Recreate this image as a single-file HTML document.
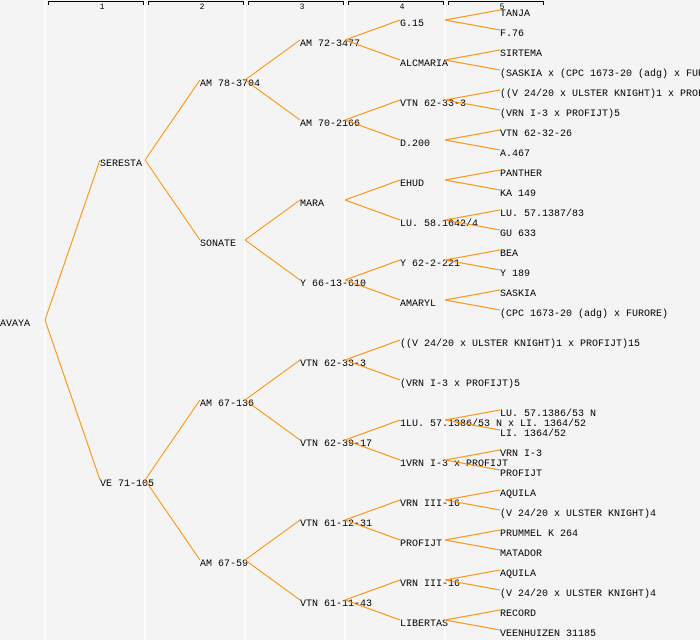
<!DOCTYPE html>
<html><head><style>
html,body{margin:0;padding:0;background:#f4f4f4;}
svg{display:block;}
text{font-family:"Liberation Mono",monospace;font-size:10px;fill:#000;}
.r{font-size:8px;}
</style></head><body>
<svg width="700" height="640" xmlns="http://www.w3.org/2000/svg">
<rect width="700" height="640" fill="#f4f4f4"/>
<g stroke="#ffffff" stroke-width="1.5">
<line x1="45" y1="0" x2="45" y2="640"/><line x1="145" y1="0" x2="145" y2="640"/><line x1="245" y1="0" x2="245" y2="640"/><line x1="345" y1="0" x2="345" y2="640"/><line x1="445" y1="0" x2="445" y2="640"/>
</g>
<g stroke="#000" stroke-width="1" fill="none">
<path d="M48.5 5V1.5H143.5V5"/><path d="M148.5 5V1.5H243.5V5"/><path d="M248.5 5V1.5H343.5V5"/><path d="M348.5 5V1.5H443.5V5"/><path d="M448.5 5V1.5H543.5V5"/>
</g>
<g class="r" text-anchor="middle">
<text class="r" x="102" y="9">1</text><text class="r" x="202" y="9">2</text><text class="r" x="302" y="9">3</text><text class="r" x="402" y="9">4</text><text class="r" x="502" y="9">5</text>
</g>
<g>
<text x="0" y="326">AVAYA</text>
<text x="100" y="166">SERESTA</text><text x="100" y="486">VE 71-105</text>
<text x="200" y="86">AM 78-3704</text><text x="200" y="246">SONATE</text><text x="200" y="406">AM 67-136</text><text x="200" y="566">AM 67-59</text>
<text x="300" y="46">AM 72-3477</text><text x="300" y="126">AM 70-2166</text><text x="300" y="206">MARA</text><text x="300" y="286">Y 66-13-610</text>
<text x="300" y="366">VTN 62-33-3</text><text x="300" y="446">VTN 62-39-17</text><text x="300" y="526">VTN 61-12-31</text><text x="300" y="606">VTN 61-11-43</text>
<text x="400" y="26">G.15</text><text x="400" y="66">ALCMARIA</text><text x="400" y="106">VTN 62-33-3</text><text x="400" y="146">D.200</text>
<text x="400" y="186">EHUD</text><text x="400" y="226">LU. 58.1642/4</text><text x="400" y="266">Y 62-2-221</text><text x="400" y="306">AMARYL</text>
<text x="400" y="346">((V 24/20 x ULSTER KNIGHT)1 x PROFIJT)15</text><text x="400" y="386">(VRN I-3 x PROFIJT)5</text>
<text x="400" y="426">1LU. 57.1386/53 N x LI. 1364/52</text><text x="400" y="466">1VRN I-3 x PROFIJT</text>
<text x="400" y="506">VRN III-16</text><text x="400" y="546">PROFIJT</text><text x="400" y="586">VRN III-16</text><text x="400" y="626">LIBERTAS</text>
<text x="500" y="16">TANJA</text><text x="500" y="36">F.76</text><text x="500" y="56">SIRTEMA</text><text x="500" y="76">(SASKIA x (CPC 1673-20 (adg) x FURORE))</text>
<text x="500" y="96">((V 24/20 x ULSTER KNIGHT)1 x PROFIJT)15</text><text x="500" y="116">(VRN I-3 x PROFIJT)5</text><text x="500" y="136">VTN 62-32-26</text><text x="500" y="156">A.467</text>
<text x="500" y="176">PANTHER</text><text x="500" y="196">KA 149</text><text x="500" y="216">LU. 57.1387/83</text><text x="500" y="236">GU 633</text>
<text x="500" y="256">BEA</text><text x="500" y="276">Y 189</text><text x="500" y="296">SASKIA</text><text x="500" y="316">(CPC 1673-20 (adg) x FURORE)</text>
<text x="500" y="416">LU. 57.1386/53 N</text><text x="500" y="436">LI. 1364/52</text><text x="500" y="456">VRN I-3</text><text x="500" y="476">PROFIJT</text>
<text x="500" y="496">AQUILA</text><text x="500" y="516">(V 24/20 x ULSTER KNIGHT)4</text><text x="500" y="536">PRUMMEL K 264</text><text x="500" y="556">MATADOR</text>
<text x="500" y="576">AQUILA</text><text x="500" y="596">(V 24/20 x ULSTER KNIGHT)4</text><text x="500" y="616">RECORD</text><text x="500" y="636">VEENHUIZEN 31185</text>
</g>
<g stroke="#ff8c00" stroke-width="1" fill="none">
<path d="M45 320L100 160M45 320L100 480"/>
<path d="M145 160L200 80M145 160L200 240M145 480L200 400M145 480L200 560"/>
<path d="M245 80L300 40M245 80L300 120M245 240L300 200M245 240L300 280M245 400L300 360M245 400L300 440M245 560L300 520M245 560L300 600"/>
<path d="M345 40L400 20M345 40L400 60M345 120L400 100M345 120L400 140M345 200L400 180M345 200L400 220M345 280L400 260M345 280L400 300M345 360L400 340M345 360L400 380M345 440L400 420M345 440L400 460M345 520L400 500M345 520L400 540M345 600L400 580M345 600L400 620"/>
<path d="M445 20L500 10M445 20L500 30M445 60L500 50M445 60L500 70M445 100L500 90M445 100L500 110M445 140L500 130M445 140L500 150M445 180L500 170M445 180L500 190M445 220L500 210M445 220L500 230M445 260L500 250M445 260L500 270M445 300L500 290M445 300L500 310M445 420L500 410M445 420L500 430M445 460L500 450M445 460L500 470M445 500L500 490M445 500L500 510M445 540L500 530M445 540L500 550M445 580L500 570M445 580L500 590M445 620L500 610M445 620L500 630"/>
</g>
</svg>
</body></html>
